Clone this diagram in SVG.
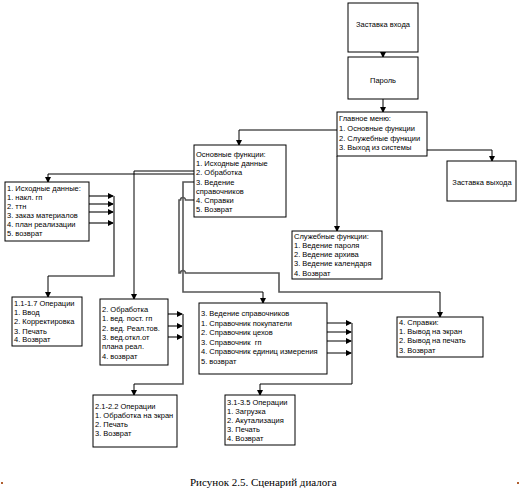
<svg xmlns="http://www.w3.org/2000/svg" width="520" height="495" viewBox="0 0 520 495">
<defs>
<marker id="ah" markerWidth="6" markerHeight="6" refX="5" refY="3" orient="auto" markerUnits="userSpaceOnUse">
<path d="M0,0 L6,3 L0,6 Z" fill="#000"/>
</marker>
</defs>
<style>
.box{fill:#fff;stroke:#000;stroke-width:1}
.t{font-family:"Liberation Sans",Arial,sans-serif;font-size:7.5px;fill:#000}
.tc{font-family:"Liberation Sans",Arial,sans-serif;font-size:7.5px;fill:#000;text-anchor:middle}
.c{fill:none;stroke:#000;stroke-width:1}
.g{fill:none;stroke:#555;stroke-width:1.6}
.cap{font-family:"Liberation Serif","Times New Roman",serif;font-size:11px;fill:#000}
</style>
<rect width="520" height="495" fill="#fff"/>
<g id="connectors">
<path class="c" d="M383,52 V57" marker-end="url(#ah)"/>
<path class="c" d="M383,99 V112" marker-end="url(#ah)"/>
<path class="c" d="M427,150 H492 V161" marker-end="url(#ah)"/>
<path class="c" d="M337,130 H239 V145" marker-end="url(#ah)"/>
<path class="c" d="M337,156 V231" marker-end="url(#ah)"/>
<path class="c" d="M194,171 H134 V299" marker-end="url(#ah)"/>
<path class="c" d="M194,174 H48 V182" marker-end="url(#ah)"/>
<path class="g" d="M89,196 H113" marker-end="url(#ah)"/>
<path class="g" d="M89,204 H113" marker-end="url(#ah)"/>
<path class="g" d="M89,212 H113" marker-end="url(#ah)"/>
<path class="g" d="M89,223 H113" marker-end="url(#ah)"/>
<path class="g" d="M114,196 V276 H48"/>
<path class="c" d="M48,276 V297" marker-end="url(#ah)"/>
<path class="g" d="M168,314 H182" marker-end="url(#ah)"/>
<path class="g" d="M168,326 H182" marker-end="url(#ah)"/>
<path class="g" d="M168,337 H182" marker-end="url(#ah)"/>
<path class="g" d="M183,314 V384 H134"/>
<path class="c" d="M134,384 V395" marker-end="url(#ah)"/>
<path class="g" d="M194,182 H183 V292 H263" stroke-width="1.2"/>
<path class="c" d="M263,292 V303" marker-end="url(#ah)"/>
<path class="g" stroke-width="1.2" d="M194,200 H185.5 A2.5,2.5 0 0 0 180.5,200 H179 V273 H180.5 A2.5,2.5 0 0 1 185.5,273 H279 V292 H440"/>
<path class="c" d="M440,292 V317" marker-end="url(#ah)"/>
<path class="c" d="M327,323 H351" marker-end="url(#ah)"/>
<path class="c" d="M327,332 H351" marker-end="url(#ah)"/>
<path class="c" d="M327,341 H351" marker-end="url(#ah)"/>
<path class="c" d="M327,353 H351" marker-end="url(#ah)"/>
<path class="c" d="M352,323 V384 H260 V395" marker-end="url(#ah)"/>
</g>
<g id="entry">
<rect class="box" x="348" y="3" width="70" height="49"/>
<text class="tc" x="383" y="27">Заставка входа</text>
</g>
<g id="password">
<rect class="box" x="348" y="57" width="70" height="42"/>
<text class="tc" x="383" y="83">Пароль</text>
</g>
<g id="mainmenu">
<rect class="box" x="337" y="112" width="90" height="44"/>
<text class="t" x="339" y="121">Главное меню:</text>
<text class="t" x="339" y="131">1. Основные функции</text>
<text class="t" x="339" y="141">2. Служебные функции</text>
<text class="t" x="339" y="150">3. Выход из системы</text>
</g>
<g id="exit">
<rect class="box" x="447" y="161" width="69" height="40"/>
<text class="tc" x="482" y="185">Заставка выхода</text>
</g>
<g id="basic">
<rect class="box" x="194" y="145" width="92" height="72"/>
<text class="t" x="196" y="157">Основные функции:</text>
<text class="t" x="196" y="166">1. Исходные данные</text>
<text class="t" x="196" y="175">2. Обработка</text>
<text class="t" x="196" y="185">3. Ведение</text>
<text class="t" x="196" y="194">справочников</text>
<text class="t" x="196" y="203">4. Справки</text>
<text class="t" x="196" y="212">5. Возврат</text>
</g>
<g id="service">
<rect class="box" x="292" y="231" width="90" height="48"/>
<text class="t" x="294" y="239">Служебные функции:</text>
<text class="t" x="294" y="248">1. Ведение пароля</text>
<text class="t" x="294" y="257">2. Ведение архива</text>
<text class="t" x="294" y="266">3. Ведение календаря</text>
<text class="t" x="294" y="276">4. Возврат</text>
</g>
<g id="source">
<rect class="box" x="5" y="182" width="84" height="59"/>
<text class="t" x="7" y="191">1. Исходные данные:</text>
<text class="t" x="7" y="200">1. накл. гп</text>
<text class="t" x="7" y="209">2. ттн</text>
<text class="t" x="7" y="218">3. заказ материалов</text>
<text class="t" x="7" y="227">4. план реализации</text>
<text class="t" x="7" y="236">5. возврат</text>
</g>
<g id="ops11">
<rect class="box" x="12" y="297" width="70" height="49"/>
<text class="t" x="14" y="306">1.1-1.7 Операции</text>
<text class="t" x="14" y="315">1. Ввод</text>
<text class="t" x="14" y="324">2. Корректировка</text>
<text class="t" x="14" y="334">3. Печать</text>
<text class="t" x="14" y="342">4. Возврат</text>
</g>
<g id="processing">
<rect class="box" x="100" y="299" width="68" height="66"/>
<text class="t" x="102" y="312">2. Обработка</text>
<text class="t" x="102" y="321">1. вед. пост. гп</text>
<text class="t" x="102" y="331">2. вед. Реал.тов.</text>
<text class="t" x="102" y="340">3. вед.откл.от</text>
<text class="t" x="102" y="349">плана реал.</text>
<text class="t" x="102" y="359">4. возврат</text>
</g>
<g id="ops21">
<rect class="box" x="93" y="395" width="84" height="52"/>
<text class="t" x="95" y="409">2.1-2.2 Операции</text>
<text class="t" x="95" y="418">1. Обработка на экран</text>
<text class="t" x="95" y="427">2. Печать</text>
<text class="t" x="95" y="436">3. Возврат</text>
</g>
<g id="refs">
<rect class="box" x="199" y="303" width="128" height="71"/>
<text class="t" x="201" y="316">3. Ведение справочников</text>
<text class="t" x="201" y="326">1. Справочник покупатели</text>
<text class="t" x="201" y="335">2. Справочник цехов</text>
<text class="t" x="201" y="345" xml:space="preserve">3. Справочник  гп</text>
<text class="t" x="201" y="354">4. Справочник единиц измерения</text>
<text class="t" x="201" y="364">5. возврат</text>
</g>
<g id="ops31">
<rect class="box" x="225" y="395" width="70" height="50"/>
<text class="t" x="227" y="405">3.1-3.5 Операции</text>
<text class="t" x="227" y="414">1. Загрузка</text>
<text class="t" x="227" y="423">2. Акутализация</text>
<text class="t" x="227" y="432">3. Печать</text>
<text class="t" x="227" y="441">4. Возврат</text>
</g>
<g id="reports">
<rect class="box" x="397" y="317" width="86" height="40"/>
<text class="t" x="399" y="325">4. Справки:</text>
<text class="t" x="399" y="334">1. Вывод на экран</text>
<text class="t" x="399" y="343">2. Вывод на печать</text>
<text class="t" x="399" y="353">3. Возврат</text>
</g>
<text class="cap" x="190" y="486">Рисунок 2.5. Сценарий диалога</text>
<rect x="1" y="482" width="2" height="2" fill="#b06030"/>
<rect x="517" y="482" width="2" height="2" fill="#b06030"/>
</svg>
